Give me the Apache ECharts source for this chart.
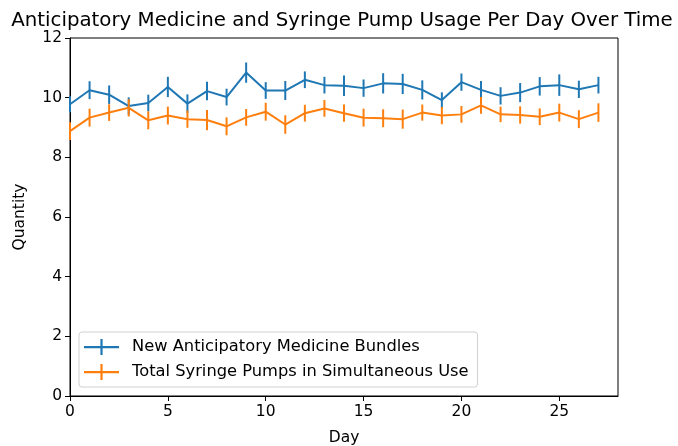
<!DOCTYPE html>
<html>
<head>
<meta charset="utf-8">
<script src="https://cdn.jsdelivr.net/npm/echarts@6/dist/echarts.min.js"></script>
<style>html,body{margin:0;padding:0;background:#fff}#c{width:678px;height:446px}</style>
</head>
<body>
<div id="c"></div>
<script>
var days = [0,1,2,3,4,5,6,7,8,9,10,11,12,13,14,15,16,17,18,19,20,21,22,23,24,25,26,27];
var bundles = [9.78,10.25,10.1,9.72,9.82,10.36,9.8,10.22,10.02,10.84,10.24,10.24,10.6,10.42,10.4,10.32,10.48,10.46,10.26,9.92,10.52,10.26,10.06,10.17,10.38,10.42,10.28,10.42];
var bundlesErr = [0.27,0.3,0.31,0.29,0.28,0.34,0.31,0.31,0.28,0.34,0.28,0.32,0.28,0.28,0.34,0.29,0.34,0.34,0.32,0.26,0.29,0.3,0.29,0.32,0.31,0.36,0.29,0.28];
var pumps = [8.88,9.33,9.5,9.66,9.24,9.4,9.28,9.25,9.04,9.34,9.53,9.1,9.48,9.64,9.48,9.33,9.31,9.28,9.5,9.4,9.44,9.74,9.44,9.42,9.36,9.5,9.28,9.5];
var pumpsErr = [0.3,0.3,0.28,0.29,0.3,0.3,0.29,0.34,0.3,0.28,0.3,0.31,0.28,0.28,0.29,0.3,0.3,0.32,0.27,0.29,0.28,0.28,0.26,0.29,0.28,0.3,0.3,0.31];
var xTicks = [0,5,10,15,20,25];
var yTicks = [0,2,4,6,8,10,12];
var names = ['New Anticipatory Medicine Bundles','Total Syringe Pumps in Simultaneous Use'];
var colors = ['#1f77b4','#ff7f0e'];

function pairs(v){ return days.map(function(d,i){ return [d, v[i]]; }); }
function errData(v,e){ return days.map(function(d,i){ return [d, v[i]-e[i], v[i]+e[i]]; }); }
function errSeries(v,e,color,z){
  return {
    type:'custom', name:'err'+z, z:z, silent:true,
    data: errData(v,e),
    encode:{x:0,y:[1,2]},
    renderItem:function(params, api){
      var a = api.coord([api.value(0), api.value(1)]);
      var b = api.coord([api.value(0), api.value(2)]);
      return {type:'line', shape:{x1:a[0],y1:a[1],x2:b[0],y2:b[1]}, style:{stroke:color, lineWidth:2}};
    }
  };
}
var font = 'DejaVu Sans';
var fs = 15.5;
var legendIcon = 'path://M0,9h35v2.2h-35z M16.4,2h2.2v16h-2.2z';
var chart = echarts.init(document.getElementById('c'), null, {renderer:'canvas'});
chart.setOption({
  animation:false,
  title:{text:'Anticipatory Medicine and Syringe Pump Usage Per Day Over Time', left:337, textAlign:'center', top:6,
    textStyle:{fontFamily:font, fontSize:19.8, fontWeight:'normal', color:'#000'}},
  grid:{left:70, right:60, top:38, bottom:50, outerBoundsMode:'none', containLabel:false, show:true, borderColor:'#000', borderWidth:1, backgroundColor:'transparent'},
  legend:{
    data:[{name:names[0], icon:legendIcon},{name:names[1], icon:legendIcon}],
    orient:'vertical', left:79, top:332, itemWidth:35, itemHeight:20, itemGap:9,
    padding:[7,9,7,5],
    backgroundColor:'rgba(255,255,255,0.8)', borderColor:'#d0d0d0', borderWidth:1, borderRadius:3,
    textStyle:{fontFamily:font, fontSize:16.3, color:'#000', padding:[0,0,0,8]}
  },
  xAxis:{type:'value', min:0, max:28, interval:5, name:'Day', nameLocation:'middle', nameGap:34,
    nameTextStyle:{fontFamily:font, fontSize:fs, color:'#000'},
    axisLine:{show:true, onZero:false, lineStyle:{color:'#000'}},
    axisTick:{show:true, length:5, customValues:xTicks, lineStyle:{color:'#000'}},
    axisLabel:{customValues:xTicks, fontFamily:font, fontSize:fs, color:'#000', margin:8},
    splitLine:{show:false}},
  yAxis:{type:'value', min:0, max:12, interval:2, name:'Quantity', nameLocation:'middle', nameGap:42,
    nameTextStyle:{fontFamily:font, fontSize:fs, color:'#000'},
    axisLine:{show:true, lineStyle:{color:'#000'}},
    axisTick:{show:true, length:5, customValues:yTicks, lineStyle:{color:'#000'}},
    axisLabel:{customValues:yTicks, fontFamily:font, fontSize:fs, color:'#000', margin:8},
    splitLine:{show:false}},
  series:[
    {type:'line', name:names[0], data:pairs(bundles), symbol:'none', z:2, lineStyle:{color:colors[0], width:2}, itemStyle:{color:colors[0]}},
    errSeries(bundles,bundlesErr,colors[0],3),
    {type:'line', name:names[1], data:pairs(pumps), symbol:'none', z:4, lineStyle:{color:colors[1], width:2}, itemStyle:{color:colors[1]}},
    errSeries(pumps,pumpsErr,colors[1],5)
  ]
});
</script>
</body>
</html>
